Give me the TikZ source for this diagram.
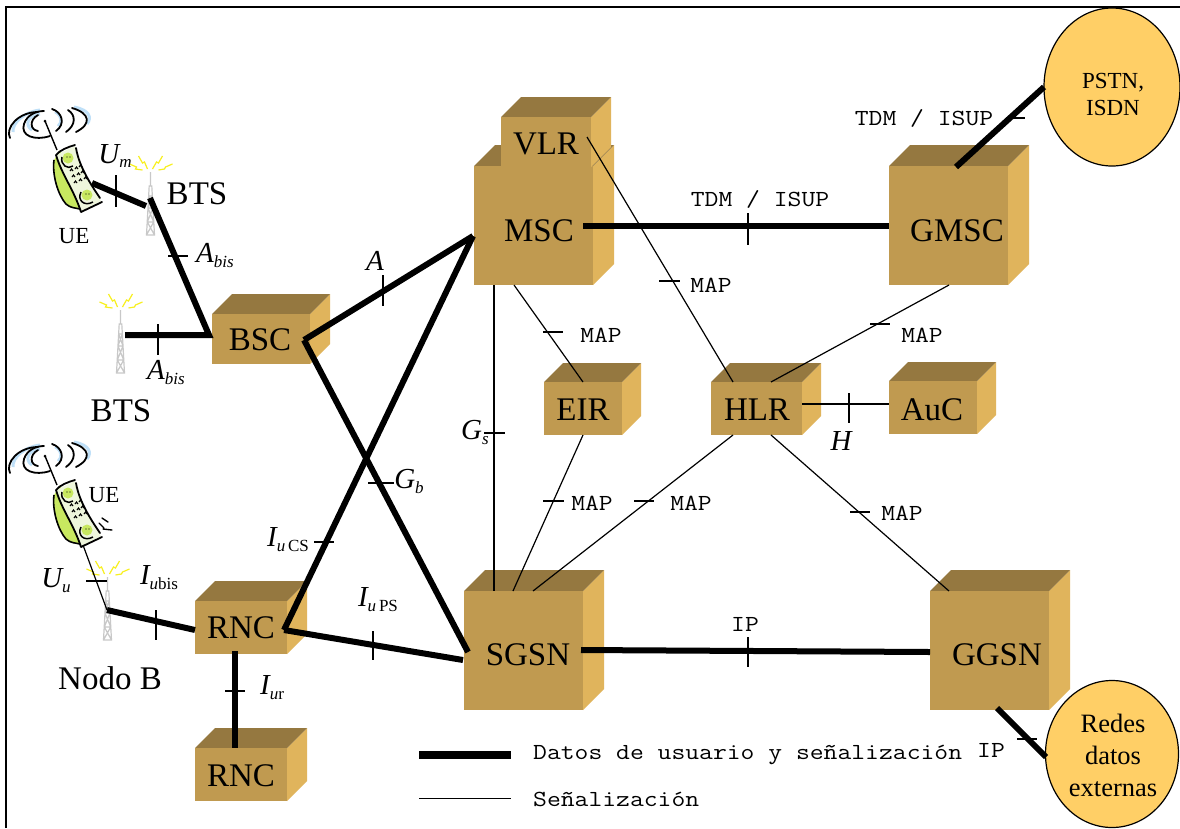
\documentclass[tikz,border=0pt]{standalone}
\usepackage{fontspec}
\setmainfont{Liberation Serif}
\usetikzlibrary{shapes.geometric}
\newcommand{\fsz}[1]{\fontsize{#1}{#1}\selectfont}
\newcommand{\mon}[1]{\scalebox{1.168}[1]{#1}}
\definecolor{cfront}{HTML}{C09A50}
\definecolor{ctop}{HTML}{957840}
\definecolor{cside}{HTML}{E0B45C}
\definecolor{cloud}{HTML}{FFCF66}
\definecolor{cgreen}{HTML}{C8E860}
\definecolor{cpale}{HTML}{EEF6DC}
\definecolor{cwave}{HTML}{BFE0F8}
\definecolor{ctower}{HTML}{C8C8C8}
\definecolor{cray}{HTML}{F8F020}
\tikzset{
  boxfront/.style={fill=cfront,inner sep=0pt,outer sep=0pt},
  boxtext/.style={inner sep=0pt,font=\fsz{33}},
  heavy/.style={line width=6pt,line cap=butt},
  fine/.style={line width=1.2pt},
  tickmark/.style={line width=1.2pt},
  monolab/.style={inner sep=0pt,font=\ttfamily\fsz{23}},
  serlab/.style={inner sep=0pt,font=\fsz{33}},
  smalllab/.style={inner sep=0pt,font=\fsz{23}},
  itlab/.style={inner sep=0pt,font=\itshape\fsz{29}},
  cloudshape/.style={draw=black,line width=1.2pt,fill=cloud,ellipse,inner sep=0pt},
  cloudtext/.style={inner sep=0pt,align=center},
}
% name, x0,y0,x1,y1 (front), depth, label, label dx, label dy
\newcommand{\cube}[9]{%
  \fill[cside] (#4,#3) -- ++(#6,-#6) -- ++(0,#5-#3) -- (#4,#5) -- cycle;
  \fill[ctop] (#2,#3) -- ++(#6,-#6) -- ++(#4-#2,0) -- (#4,#3) -- cycle;
  \pgfmathsetmacro{\cubew}{#4-#2}\pgfmathsetmacro{\cubeh}{#5-#3}%
  \node[boxfront,minimum width=\cubew pt,minimum height=\cubeh pt] (#1) at ({(#2+#4)/2},{(#3+#5)/2}) {};
  \node[boxtext] (#1t) at ({(#2+#4)/2+#8},{(#3+#5)/2+#9}) {#7};
}
\newcommand{\tickm}[4]{\draw[tickmark] (#1,#2) -- (#3,#4);}
\newcommand{\subl}[2]{{\itshape\fsz{29}#1}\raisebox{-5pt}{\fsz{17}#2}}
% tower: top at (x,y)
\newcommand{\tower}[2]{%
  \begin{scope}[shift={(#1,#2)}]
    \draw[cray,line width=1.2pt] (-21,-8) -- (-14,-5) -- (-15,-3) -- (-8,-2)
      (-12,-16) -- (-8,-9) -- (-6,-10) -- (-3,-3)
      (12,-16) -- (8,-9) -- (6,-10) -- (2,-3)
      (22,-8) -- (15,-5) -- (14,-3) -- (8,-2);
    \draw[ctower,line width=1.2pt] (0,0) -- (0,14)
      (-1.3,14) -- (-4,63) -- (4,63) -- (1.3,14) -- cycle
      (-1.8,24) -- (1.8,24) (-2.5,36) -- (2.5,36) (-3.2,50) -- (3.2,50)
      (-1.8,24) -- (2.5,36) -- (-3.2,50) -- (4,63)
      (1.8,24) -- (-2.5,36) -- (3.2,50) -- (-4,63);
  \end{scope}}
% phone, antenna tip near (45,121)+shift
\newcommand{\phone}[2]{%
  \begin{scope}[shift={(#1,#2)}]
    \draw[cwave,line width=3pt] (13,132) .. controls (12,123) and (24,112) .. (40,110);
    \draw[cwave,line width=3pt] (32,130) .. controls (24,125) and (28,115) .. (40,114);
    \draw[cwave,line width=3pt] (74,107) .. controls (90,110) and (92,118) .. (87,124);
    \draw[cwave,line width=2.4pt] (55,112) .. controls (62,116) and (62,122) .. (58,126);
    \draw[line width=1.8pt,line cap=round] (10,138) .. controls (5,128) and (18,112) .. (38,112);
    \draw[line width=1.8pt,line cap=round] (50,136) .. controls (35,141) and (20,136) .. (24,124) .. controls (27,115) and (36,111) .. (44,111);
    \draw[line width=1.8pt,line cap=round] (38,131) .. controls (30,130) and (29,120) .. (38,115);
    \draw[line width=1.8pt,line cap=round] (52,109) .. controls (62,112) and (66,124) .. (56,131);
    \draw[line width=1.8pt,line cap=round] (68,110) .. controls (76,115) and (76,125) .. (66,132);
    \draw[line width=1.8pt,line cap=round] (72,108) .. controls (90,113) and (92,124) .. (76,132);
    \fill (45,121) circle (1.5);
    \draw[line width=1.4pt] (45,121) -- (57,150);
    \filldraw[fill=cgreen,draw=none] (54,160) .. controls (52,175) and (58,195) .. (66,204) .. controls (70,208) and (76,208) .. (80,209) -- (60,150) -- cycle;
    \draw[line width=1.6pt] (54,160) .. controls (52,175) and (58,195) .. (66,204) .. controls (70,208) and (76,208) .. (80,209);
    \fill[cpale] (56,155) -- (75,146) .. controls (78,160) and (84,175) .. (101,201) -- (81,212) .. controls (74,190) and (62,175) .. (56,155) -- cycle;
    \draw[line width=1.8pt,line cap=round] (56,155) .. controls (62,175) and (74,190) .. (81,212)
      (56,155) .. controls (60,150) and (68,147) .. (75,145)
      (76,148) .. controls (78,160) and (84,175) .. (100,198)
      (81,212) -- (102,202);
    \fill[cgreen] (68,158) circle (5.5) (87,195) circle (5.5);
    \draw[line width=1.5pt] (62,157) .. controls (60,165) and (68,170) .. (73,166);
    \draw[line width=1.5pt] (81,192) .. controls (77,200) and (84,207) .. (93,202);
    \foreach \kx/\ky in {70/171,75/169,79/167,72/177,77/175,81/173,74/183,79/181,84/179}
      \draw[line width=1.1pt] (\kx,\ky) -- ++(1.5,-2) -- ++(1.5,2);
    \fill (67,157) circle (.6) (70,157) circle (.6) (86,194) circle (.6) (89,194) circle (.6);
  \end{scope}}
\begin{document}
\begin{tikzpicture}[x=1pt,y=-1pt]
\useasboundingbox (0,0) rectangle (1180,828);
\clip (0,0) rectangle (1180,828);
\fill[white] (0,0) rectangle (1180,828);
\draw[line width=1.4pt] (6,828) -- (6,7) -- (1180,7);

% boxes
\cube{msc}{474}{166}{593}{285}{21}{MSC}{5.5}{5.5}
\cube{vlr}{501}{117}{591}{167}{20}{VLR}{0}{2}
\cube{gmsc}{889}{166}{1008}{285}{21}{GMSC}{8.5}{5.5}
\cube{bsc}{212}{314}{310}{364}{20}{BSC}{-1}{1}
\cube{eir}{544}{382}{622}{435}{19}{EIR}{0}{1.5}
\cube{hlr}{711}{382}{802}{435}{19}{HLR}{0.5}{1.5}
\cube{auc}{889}{381}{977}{434}{19}{AuC}{-1}{2.5}
\cube{rnca}{195}{601}{287}{654}{20}{RNC}{0}{0.5}
\cube{rncb}{195}{748}{287}{801}{20}{RNC}{0}{1.5}
\cube{sgsn}{464}{591}{583}{710}{21}{SGSN}{4.5}{4.5}
\cube{ggsn}{930}{591}{1049}{710}{21}{GGSN}{7.5}{4.5}

% clouds
\node[cloudshape,minimum width=136pt,minimum height=158pt] (pstn) at (1112,87) {};
\node[cloudtext,font=\fsz{23}] (pstnt) at (1113,94) {PSTN,\\[4pt]ISDN};
\node[cloudshape,minimum width=133pt,minimum height=147pt] (redes) at (1112,754) {};
\node[cloudtext,font=\fsz{26.5}] (redest) at (1113,755) {Redes\\[5.5pt]datos\\[5.5pt]externas};

% radio equipment
\phone{0}{0}
\phone{0}{335}
\draw[line width=1.4pt,line cap=round] (99,523) -- (104,528) (102,518) -- (108,522) (103,529) -- (112,530);
\tower{150.5}{172}
\tower{120.5}{310}
\tower{107.5}{577}

% connector ends
\coordinate (ue1) at (92,183);
\coordinate (ue2) at (83,545);
\coordinate (bts1w) at (146,206);
\coordinate (bts1s) at (150,198);
\coordinate (bts2) at (125,335);
\coordinate (nodeb) at (107,610);
\coordinate (bscw) at (209,335);
\coordinate (bsce) at (304,340);
\coordinate (mscw) at (473,236);
\coordinate (msce) at (583,226);
\coordinate (mscs) at (494,285);
\coordinate (mscse) at (514,285);
\coordinate (sgswa) at (468,652);
\coordinate (sgswb) at (463,660);
\coordinate (sgse) at (581,650);
\coordinate (sgsna) at (494,591);
\coordinate (sgsnb) at (513,591);
\coordinate (sgsnc) at (533,591);
\coordinate (rncae) at (284,630);
\coordinate (rncaw) at (195,630);
\coordinate (rncas) at (235,651);
\coordinate (rncbn) at (235,748);
\coordinate (gmscw) at (889,226);
\coordinate (gmscn) at (956,167);
\coordinate (gmscs) at (949,285);
\coordinate (ggsw) at (930,652);
\coordinate (ggss) at (997,708);
\coordinate (ggsn1) at (949,591);
\coordinate (pstnw) at (1044,87);
\coordinate (redesw) at (1046,757);
\coordinate (vlri) at (587,137);
\coordinate (hlrn) at (733,382);
\coordinate (hlrne) at (771,382);
\coordinate (hlre) at (802,404);
\coordinate (hlrsw) at (733,435);
\coordinate (hlrse) at (771,435);
\coordinate (eirn) at (583,382);
\coordinate (eirs) at (583,435);
\coordinate (aucw) at (889,404);

% heavy connectors
\draw[heavy] (ue1) -- (bts1w);
\draw[heavy,line join=miter] (bts1s) -- (bscw) -- (bts2);
\draw[heavy] (bsce) -- (mscw);
\draw[heavy] (bsce) -- (sgswa);
\draw[heavy] (rncae) -- (mscw);
\draw[heavy] (rncae) -- (sgswb);
\draw[heavy] (nodeb) -- (rncaw);
\draw[heavy] (rncas) -- (rncbn);
\draw[heavy] (msce) -- (gmscw);
\draw[heavy] (sgse) -- (ggsw);
\draw[heavy] (gmscn) -- (pstnw);
\draw[heavy] (ggss) -- (redesw);

% fine connectors
\draw[fine] (ue2) -- (nodeb);
\draw[fine] (vlri) -- (hlrn);
\draw[fine] (mscs) -- (sgsna);
\draw[fine] (mscse) -- (eirn);
\draw[fine] (gmscs) -- (hlrne);
\draw[fine] (hlre) -- (aucw);
\draw[fine] (eirs) -- (sgsnb);
\draw[fine] (hlrsw) -- (sgsnc);
\draw[fine] (hlrse) -- (ggsn1);

% ticks
\tickm{116}{175}{116}{207}
\tickm{168}{256}{188}{256}
\tickm{158}{324}{158}{355}
\tickm{383}{275}{383}{306}
\tickm{368}{483}{394}{483}
\tickm{314}{542}{334}{542}
\tickm{373}{631}{373}{660}
\tickm{156}{610}{156}{640}
\tickm{86}{581}{107}{581}
\tickm{225}{691}{245}{691}
\tickm{484}{433}{505}{433}
\tickm{543}{332}{563}{332}
\tickm{659}{281}{680}{281}
\tickm{870}{324}{890}{324}
\tickm{849}{393}{849}{423}
\tickm{543}{501}{564}{501}
\tickm{634}{501}{654}{501}
\tickm{850}{512}{870}{512}
\tickm{1006}{118}{1025}{118}
\tickm{748}{213}{748}{245}
\tickm{748}{637}{748}{667}
\tickm{1017}{739}{1037}{739}

% text labels
\node[serlab] (lbts1) at (197,194) {BTS};
\node[serlab] (lbts2) at (121,411) {BTS};
\node[serlab] (lnodob) at (110,678) {Nodo B};
\node[smalllab] (lue1) at (74,236) {UE};
\node[smalllab] (lue2) at (104,495) {UE};

\node[itlab] (lum) at (115,156) {\subl{U}{\itshape m}};
\node[itlab] (labis1) at (215,256) {\subl{A}{\itshape bis}};
\node[itlab] (labis2) at (166,373) {\subl{A}{\itshape bis}};
\node[itlab] (la) at (375,261) {A};
\node[itlab] (lgb) at (409,481) {\subl{G}{\itshape b}};
\node[itlab] (lgs) at (475,432) {\subl{G}{\itshape s}};
\node[itlab] (liucs) at (288,540) {\subl{I}{\itshape u\,\upshape CS}};
\node[itlab] (liups) at (378,600) {\subl{I}{\itshape u\,\upshape PS}};
\node[itlab] (liubis) at (159,578) {\subl{I}{\itshape u\upshape bis}};
\node[itlab] (luu) at (56,581) {\subl{U}{\itshape u}};
\node[itlab] (liur) at (272,688) {\subl{I}{\itshape u\upshape r}};
\node[itlab] (lh) at (841,441) {H};

\node[monolab] (m1) at (601,335) {\mon{MAP}};
\node[monolab] (m2) at (711,285) {\mon{MAP}};
\node[monolab] (m3) at (922,335) {\mon{MAP}};
\node[monolab] (m4) at (592,503) {\mon{MAP}};
\node[monolab] (m5) at (691,503) {\mon{MAP}};
\node[monolab] (m6) at (902,513) {\mon{MAP}};
\node[monolab] (t1) at (924,118) {\mon{TDM / ISUP}};
\node[monolab] (t2) at (760,199) {\mon{TDM / ISUP}};
\node[monolab] (ip1) at (745,624) {\mon{IP}};
\node[monolab] (ip2) at (991,750) {\mon{IP}};

% legend
\coordinate (lga) at (419,755);
\coordinate (lgb2) at (511,755);
\coordinate (lgc) at (419,798);
\coordinate (lgd) at (511,798);
\draw[line width=8pt] (lga) -- (lgb2);
\draw[line width=1pt] (lgc) -- (lgd);
\node[monolab,anchor=west] (lg1) at (533,755) {\mon{Datos de usuario y señalización}};
\node[monolab,anchor=west] (lg2) at (533,799) {\mon{Señalización}};
\end{tikzpicture}
\end{document}
